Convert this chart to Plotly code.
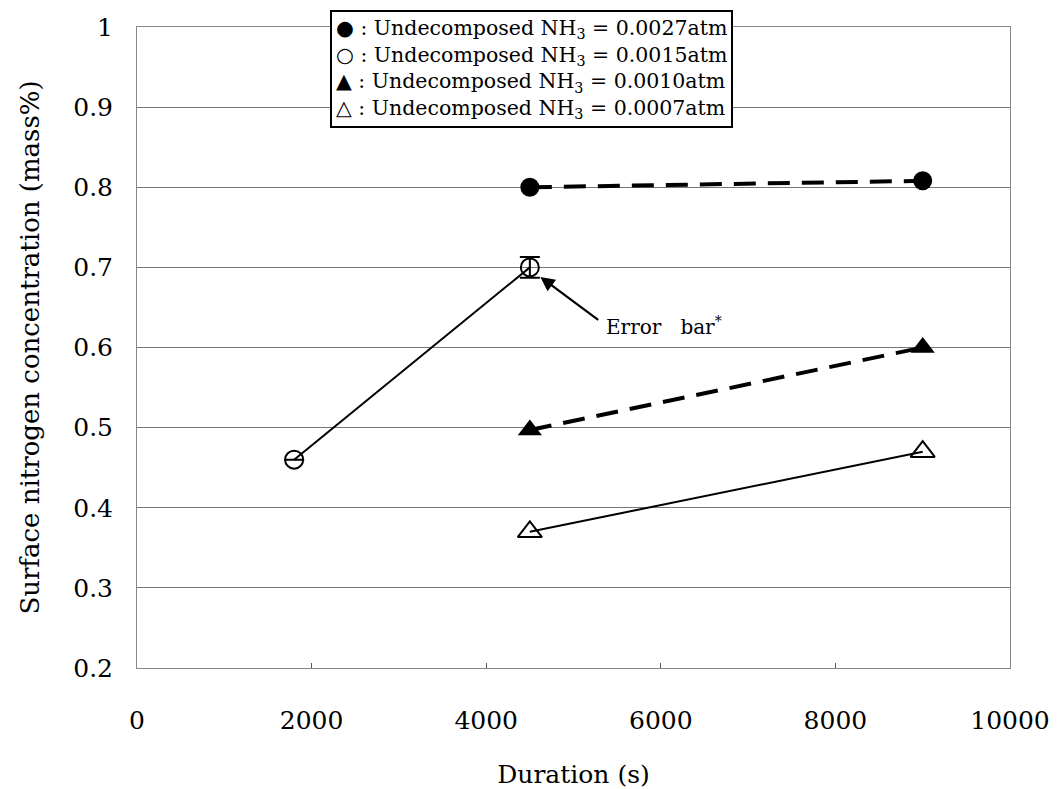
import plotly.graph_objects as go

# Data
x_027 = [4500, 9000]
y_027 = [0.800, 0.808]
x_015 = [1800, 4500]
y_015 = [0.460, 0.700]
err_015 = [0, 0.013]
x_010 = [4500, 9000]
y_010 = [0.497, 0.600]
x_007 = [4500, 9000]
y_007 = [0.370, 0.470]

legend_symbols = ["●", "○", "▲", "△"]
legend_values = ["0.0027", "0.0015", "0.0010", "0.0007"]

FONT = "DejaVu Serif"

fig = go.Figure()

fig.add_trace(go.Scatter(
    x=x_027, y=y_027, mode="lines+markers",
    line=dict(color="black", width=4, dash="22px,12px"),
    marker=dict(symbol="circle", size=19, color="black"),
))
fig.add_trace(go.Scatter(
    x=x_015, y=y_015, mode="lines+markers",
    line=dict(color="black", width=2),
    marker=dict(symbol="circle-open", size=18, color="black", line=dict(width=2)),
    error_y=dict(type="data", array=err_015, visible=True, color="black", thickness=2, width=10),
))
fig.add_trace(go.Scatter(
    x=x_010, y=y_010, mode="lines+markers",
    line=dict(color="black", width=4, dash="22px,12px"),
    marker=dict(symbol="triangle-up", size=21, color="black"),
))
fig.add_trace(go.Scatter(
    x=x_007, y=y_007, mode="lines+markers",
    line=dict(color="black", width=2),
    marker=dict(symbol="triangle-up-open", size=21, color="black", line=dict(width=2)),
))

legend_text = "<br>".join(
    f"{s} : Undecomposed NH<sub>3</sub> = {v}atm"
    for s, v in zip(legend_symbols, legend_values)
)

fig.add_annotation(
    xref="paper", yref="paper", x=0.452, y=1.027, xanchor="center", yanchor="top",
    text=legend_text, showarrow=False, align="left",
    font=dict(family=FONT, size=20.5, color="black"),
    bordercolor="black", borderwidth=2, bgcolor="white", borderpad=4,
)

fig.add_annotation(
    x=4620, y=0.688, xref="x", yref="y",
    ax=5300, ay=0.633, axref="x", ayref="y",
    text="", showarrow=True, arrowhead=2, arrowsize=1.3, arrowwidth=2.2, arrowcolor="black",
)
fig.add_annotation(
    x=5350, y=0.627, xref="x", yref="y", xanchor="left", yanchor="middle",
    text="Error&nbsp;&nbsp;&nbsp;bar<sup>*</sup>", showarrow=False,
    font=dict(family=FONT, size=20, color="black"),
)

fig.update_layout(
    width=1062, height=789,
    margin=dict(l=137, r=52, t=27, b=121),
    paper_bgcolor="white", plot_bgcolor="white",
    showlegend=False,
    font=dict(family=FONT, size=24, color="black"),
)
fig.update_xaxes(
    range=[0, 10000], dtick=2000, tick0=0, tickformat="d", automargin=False,
    showgrid=False, zeroline=False,
    showline=True, linecolor="#888888", linewidth=1, mirror=True,
    ticks="inside", ticklen=5, tickcolor="#555555",
    ticklabelstandoff=30,
    tickfont=dict(family=FONT, size=25),
    title=dict(text="Duration (s)", font=dict(family=FONT, size=25), standoff=32),
)
fig.update_yaxes(
    range=[0.2, 1.0], dtick=0.1, tick0=0.2, automargin=False,
    showgrid=True, gridcolor="#777777", gridwidth=1, zeroline=False,
    showline=True, linecolor="#888888", linewidth=1, mirror=True,
    ticks="", ticklabelstandoff=18,
    tickfont=dict(family=FONT, size=25),
    title=dict(text="Surface nitrogen concentration (mass%)", font=dict(family=FONT, size=26), standoff=26),
)

fig.write_html("out.html")
